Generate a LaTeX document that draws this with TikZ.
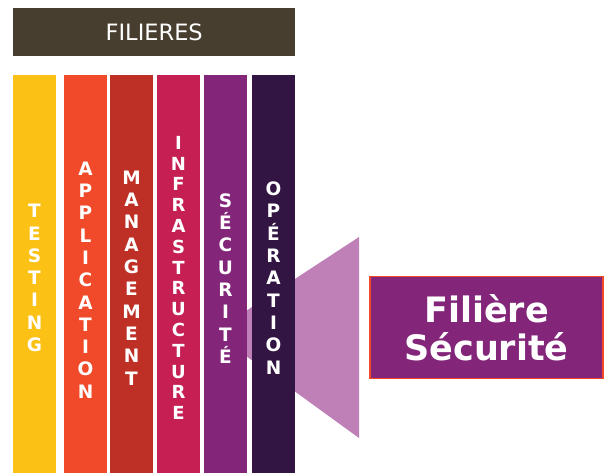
\documentclass[tikz,border=0pt]{standalone}
\usepackage{fontspec}
\setmainfont{DejaVu Sans}
\definecolor{hdr}{RGB}{71,62,48}
\definecolor{cyellow}{RGB}{252,193,21}
\definecolor{corange}{RGB}{240,74,42}
\definecolor{cred}{RGB}{190,48,38}
\definecolor{ccrimson}{RGB}{198,31,84}
\definecolor{cpurple}{RGB}{131,38,122}
\definecolor{cdark}{RGB}{51,21,67}
\definecolor{funnel}{RGB}{191,128,184}
\begin{document}
\begin{tikzpicture}[x=1pt,y=-1pt,
  bar/.style={draw=none, minimum width=43pt, minimum height=398pt, inner sep=0pt, anchor=north west},
  barlabel/.style={text=white, font=\bfseries\fontsize{18.5}{22.3}\selectfont, align=center, inner sep=0pt},
  header/.style={fill=hdr, text=white, minimum width=282pt, minimum height=48pt, inner sep=0pt, anchor=north west, font=\fontsize{22.5}{26}\selectfont},
  bigbox/.style={fill=cpurple, draw=corange, line width=1.5pt, minimum width=233pt, minimum height=102pt, inner sep=0pt, text=white, align=center, font=\bfseries\fontsize{35}{38}\selectfont}
]
\useasboundingbox (0,0) rectangle (615,473);
\fill[funnel] (246,311) -- (359,237) -- (359,438) -- (246,356) -- cycle;
\node[header] (hdr) at (13,8) {FILIERES};
\node[bar, fill=cyellow]  (b1) at (13,75) {};
\node[bar, fill=corange]  (b2) at (64,75) {};
\node[bar, fill=cred]     (b3) at (110,75) {};
\node[bar, fill=ccrimson] (b4) at (157,75) {};
\node[bar, fill=cpurple]  (b5) at (204,75) {};
\node[bar, fill=cdark]    (b6) at (252,75) {};
\node[barlabel] (l1) at (34.5,278) {T\\E\\S\\T\\I\\N\\G};
\node[barlabel] (l2) at (85.5,280) {A\\P\\P\\L\\I\\C\\A\\T\\I\\O\\N};
\node[barlabel] (l3) at (131.5,278) {M\\A\\N\\A\\G\\E\\M\\E\\N\\T};
\node[barlabel, font=\bfseries\fontsize{18}{20.8}\selectfont] (l4) at (178.5,278) {I\\N\\F\\R\\A\\S\\T\\R\\U\\C\\T\\U\\R\\E};
\node[barlabel] (l5) at (225.5,278.5) {S\\É\\C\\U\\R\\I\\T\\É};
\node[barlabel] (l6) at (273.5,278) {O\\P\\É\\R\\A\\T\\I\\O\\N};
\node[bigbox] (box) at (486.5,327.5) {Filière\\Sécurité};
\end{tikzpicture}
\end{document}
